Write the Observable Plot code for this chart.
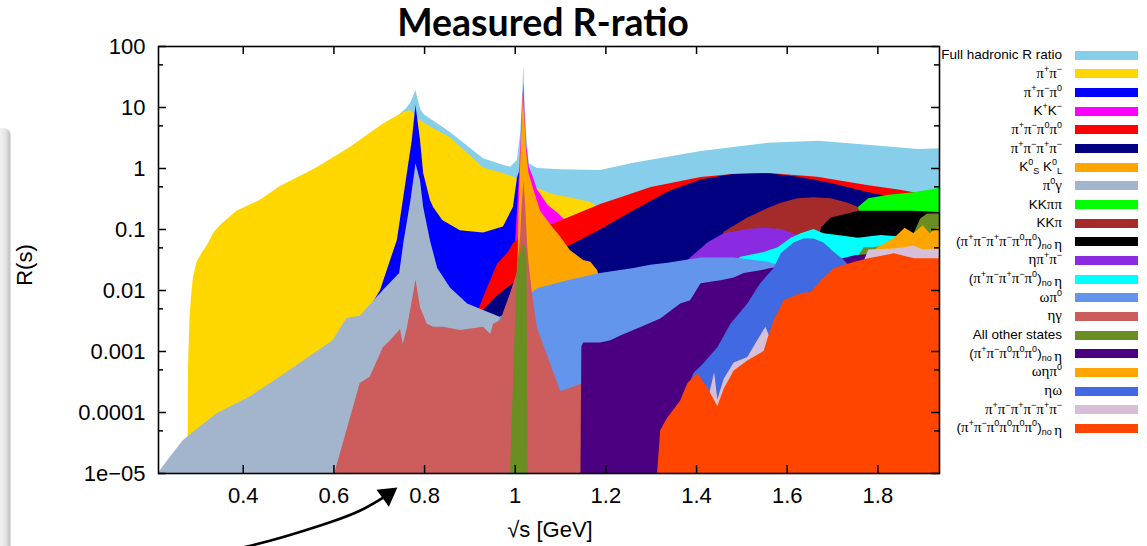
<!DOCTYPE html>
<html>
<head>
<meta charset="utf-8">
<script src="https://cdn.jsdelivr.net/npm/d3@7"></script>
<script src="https://cdn.jsdelivr.net/npm/@observablehq/plot@0.6"></script>
<style>
  html,body{margin:0;padding:0;background:#fff;}
  body{width:1147px;height:546px;position:relative;overflow:hidden;font-family:"Liberation Sans",Arial,Helvetica,sans-serif;color:#000;}
  #title{position:absolute;left:0;top:1px;width:1086px;text-align:center;font-family:Lato,"Noto Sans",sans-serif;font-weight:700;font-size:37.5px;line-height:42px;}
  #chart{position:absolute;left:0;top:40px;}
  .axlabel{position:absolute;font-size:22px;line-height:22px;white-space:nowrap;}
  #xlabel{left:550px;top:519px;transform:translateX(-50%);}
  #ylabel{left:25px;top:265px;transform:translate(-50%,-50%) rotate(-90deg);}
  .lg-text{position:absolute;right:85px;height:15px;line-height:15px;font-size:13.5px;white-space:nowrap;text-align:right;}
  .lg-sw{position:absolute;left:1075px;width:63px;height:9px;}
  .g{font-family:"Liberation Serif","DejaVu Serif",serif;font-size:15px;}
  sup,sub{font-size:9px;line-height:0;position:relative;vertical-align:baseline;}
  sup{top:-6px;} sub{top:3px;}
  #shadow{position:absolute;left:0;top:128px;width:11px;height:418px;border-radius:0 8px 0 0;
    background:linear-gradient(to right,#f2f2f2 0%,#e2e2e2 55%,#c4c4c4 85%,#e9e9e9 100%);}
</style>
</head>
<body>
<div id="shadow"></div>
<div id="title">Measured R-ratio</div>
<div id="chart"></div>
<div id="xlabel" class="axlabel">√s [GeV]</div>
<div id="ylabel" class="axlabel">R(s)</div>
<div id="legend"></div>
<script>
// ---------- axis ticks ----------
const xTicks = [0.4, 0.6, 0.8, 1.0, 1.2, 1.4, 1.6, 1.8];
const xTickLabels = ["0.4", "0.6", "0.8", "1", "1.2", "1.4", "1.6", "1.8"];
const yTicks = [1e-5, 1e-4, 1e-3, 1e-2, 0.1, 1, 10, 100];
const yTickLabels = ["1e\u221205", "0.0001", "0.001", "0.01", "0.1", "1", "10", "100"];
const yMinorTicks = [5e-5, 5e-4, 5e-3, 0.05, 0.5, 5, 50];
const xDomain = [0.213, 1.936];
const yDomain = [1e-5, 100];
const BASE = 1e-5;

// ---------- channel data: [sqrt(s) GeV, R] ----------
const fullHadronic = [[0.213,1e-5],[0.278,1e-5],[0.29,0.01],[0.31,0.035],[0.35,0.1],[0.44,0.27],[0.56,0.9],[0.64,2.0],[0.71,5.0],[0.745,7.6],[0.76,9.5],[0.77,12],[0.777,16],[0.781,19],[0.785,14],[0.792,9.0],[0.8,7.5],[0.857,3.9],[0.93,1.45],[0.97,1.15],[0.99,1.05],[1.0046,1.35],[1.0119,3.7],[1.0157,13],[1.019,49],[1.0215,13],[1.025,3.7],[1.031,1.2],[1.049,1.0],[1.1,0.95],[1.188,0.93],[1.262,1.22],[1.41,1.9],[1.558,2.6],[1.67,2.8],[1.778,2.4],[1.89,2.05],[1.937,2.1]];
const pipi = [[0.2785,1e-5],[0.279,5e-4],[0.2826,0.0036],[0.2863,0.0087],[0.29,0.016],[0.2974,0.028],[0.3085,0.04],[0.323,0.058],[0.334,0.085],[0.349,0.115],[0.386,0.2],[0.437,0.3],[0.481,0.5],[0.563,1.03],[0.636,2.2],[0.71,5.4],[0.754,8.3],[0.769,8.9],[0.776,8.0],[0.79,6.1],[0.82,4.5],[0.857,3.2],[0.93,1.02],[0.974,0.83],[1.0,0.7],[1.02,0.6],[1.04,0.5],[1.08,0.38],[1.12,0.33],[1.165,0.28],[1.2,0.2],[1.4,0.12],[1.6,0.08],[1.937,0.05]];
const pipipi0 = [[0.41,1e-5],[0.5,1e-4],[0.6,8e-4],[0.66,3e-3],[0.703,0.01],[0.725,0.031],[0.74,0.066],[0.762,0.83],[0.773,2.9],[0.781,10.8],[0.791,2.9],[0.798,0.83],[0.813,0.3],[0.82,0.23],[0.84,0.14],[0.879,0.095],[0.93,0.088],[0.974,0.11],[0.996,0.23],[1.005,0.7],[1.012,1.0],[1.017,1.2],[1.022,0.3],[1.03,0.05],[1.05,0.05],[1.1,0.06],[1.3,0.1],[1.5,0.15],[1.65,0.2],[1.937,0.06]];
const kk = [[0.987,1e-5],[1.0,0.05],[1.008,0.5],[1.013,3],[1.0165,12],[1.019,24.6],[1.0215,8],[1.025,2.5],[1.031,1.05],[1.039,0.75],[1.049,0.45],[1.072,0.25],[1.096,0.18],[1.12,0.12],[1.2,0.08],[1.5,0.05],[1.937,0.03]];
const pipi2pi0 = [[0.55,1e-5],[0.8,8e-4],[0.9,0.003],[0.919,0.0047],[0.939,0.011],[0.961,0.027],[0.985,0.042],[0.996,0.059],[1.02,0.08],[1.063,0.107],[1.122,0.16],[1.19,0.26],[1.233,0.33],[1.3,0.49],[1.41,0.71],[1.48,0.8],[1.56,0.83],[1.667,0.72],[1.78,0.52],[1.85,0.44],[1.88,0.4],[1.937,0.36]];
const twoPipTwoPim = [[0.6,1e-5],[0.85,0.001],[0.93,0.0047],[0.96,0.008],[0.99,0.012],[1.0,0.014],[1.03,0.02],[1.056,0.03],[1.1,0.045],[1.15,0.07],[1.19,0.1],[1.26,0.2],[1.34,0.42],[1.41,0.65],[1.48,0.8],[1.56,0.82],[1.63,0.71],[1.7,0.56],[1.78,0.4],[1.81,0.36],[1.85,0.33],[1.937,0.25]];
const ksKl = [[0.995,1e-5],[1.0046,0.0068],[1.0081,0.16],[1.0119,1.2],[1.0157,7],[1.0179,16.7],[1.0215,6],[1.025,2],[1.03,0.85],[1.041,0.45],[1.056,0.2],[1.078,0.12],[1.1,0.075],[1.122,0.045],[1.151,0.031],[1.167,0.029],[1.182,0.021],[1.19,0.012],[1.3,0.005],[1.937,0.001]];
const pi0gamma = [[0.213,1e-5],[0.222,1.25e-5],[0.238,1.8e-5],[0.267,3.4e-5],[0.278,4e-5],[0.342,9.5e-5],[0.415,1.8e-4],[0.481,3.8e-4],[0.598,1.5e-3],[0.629,3.5e-3],[0.658,3.8e-3],[0.709,0.01],[0.745,0.019],[0.755,0.065],[0.77,0.3],[0.776,0.63],[0.781,1.2],[0.791,0.63],[0.798,0.23],[0.813,0.065],[0.829,0.023],[0.857,0.011],[0.895,0.006],[0.93,0.0047],[0.968,0.0036],[0.99,0.0035],[1.01,0.006],[1.019,0.02],[1.03,0.002],[1.05,5e-4],[1.1,1e-4],[1.2,2e-5],[1.3,1e-5]];
const kkpipi = [[1.3,1e-5],[1.6,0.05],[1.74,0.2],[1.757,0.23],[1.78,0.32],[1.82,0.36],[1.88,0.4],[1.937,0.47]];
const kkpi = [[1.13,1e-5],[1.3,0.004],[1.44,0.03],[1.461,0.09],[1.513,0.155],[1.558,0.22],[1.587,0.27],[1.624,0.32],[1.659,0.33],[1.697,0.32],[1.735,0.27],[1.757,0.23],[1.765,0.15],[1.937,0.08]];
const sixPiNoEta = [[1.5,1e-5],[1.6,0.03],[1.67,0.07],[1.676,0.107],[1.697,0.155],[1.735,0.18],[1.757,0.2],[1.807,0.2],[1.88,0.2],[1.937,0.19]];
const etaPipi = [[0.9,1e-5],[1.2,0.002],[1.35,0.02],[1.387,0.034],[1.425,0.06],[1.461,0.085],[1.513,0.1],[1.549,0.105],[1.587,0.1],[1.609,0.088],[1.7,0.05],[1.937,0.02]];
const fivePiNoEta = [[1.2,1e-5],[1.45,0.02],[1.498,0.035],[1.549,0.042],[1.58,0.05],[1.609,0.072],[1.631,0.085],[1.659,0.1],[1.681,0.085],[1.712,0.08],[1.757,0.072],[1.807,0.08],[1.85,0.075],[1.88,0.07],[1.937,0.06]];
const omegaPi0 = [[0.918,1e-5],[0.94,0.001],[0.968,0.0037],[0.99,0.0045],[1.02,0.007],[1.049,0.0107],[1.116,0.0144],[1.188,0.019],[1.262,0.023],[1.299,0.026],[1.337,0.028],[1.41,0.034],[1.483,0.034],[1.558,0.029],[1.593,0.024],[1.7,0.015],[1.8,0.01],[1.937,0.006]];
const etaGamma = [[0.602,1e-5],[0.658,3e-4],[0.68,3.8e-4],[0.709,1.15e-3],[0.725,1.5e-3],[0.747,2.3e-3],[0.753,1.3e-3],[0.762,2.4e-3],[0.776,8.9e-3],[0.781,0.015],[0.786,8.9e-3],[0.791,5.2e-3],[0.806,2.8e-3],[0.82,2.5e-3],[0.842,2.5e-3],[0.879,2.2e-3],[0.93,2.5e-3],[0.946,1.9e-3],[0.952,2.8e-3],[0.968,3.2e-3],[0.99,0.009],[1.005,0.02],[1.012,0.08],[1.016,0.3],[1.019,0.63],[1.023,0.25],[1.027,0.06],[1.03,0.03],[1.038,0.0089],[1.049,2.4e-3],[1.078,6.3e-4],[1.1,2.2e-4],[1.116,2.4e-4],[1.15,3e-4],[1.151,1e-5]];
const otherStates = [[0.9895,1e-5],[1.005,0.03],[1.015,0.045],[1.019,0.065],[1.023,0.045],[1.026,0.03],[1.0285,1e-5],[1.7,1e-5],[1.75,0.03],[1.77,0.05],[1.79,0.05],[1.85,0.06],[1.88,0.085],[1.895,0.15],[1.91,0.18],[1.937,0.18]];
const threePi0NoEta = [[1.145,1e-5],[1.147,1.2e-3],[1.151,1.38e-3],[1.188,1.38e-3],[1.211,1.5e-3],[1.233,1.8e-3],[1.284,2.6e-3],[1.321,3.4e-3],[1.365,6e-3],[1.387,6.8e-3],[1.41,0.0129],[1.454,0.0144],[1.483,0.016],[1.505,0.019],[1.542,0.021],[1.564,0.023],[1.6,0.025],[1.7,0.03],[1.75,0.037],[1.8,0.04],[1.85,0.035],[1.937,0.03]];
const omegaEtaPi0 = [[1.75,1e-5],[1.768,0.02],[1.78,0.035],[1.8,0.05],[1.837,0.072],[1.86,0.105],[1.88,0.085],[1.9,0.115],[1.915,0.085],[1.937,0.11]];
const etaOmega = [[1.33,1e-5],[1.36,1e-4],[1.394,4.3e-4],[1.416,6.3e-4],[1.447,1.15e-3],[1.476,2.8e-3],[1.513,6e-3],[1.542,0.013],[1.571,0.023],[1.587,0.04],[1.615,0.06],[1.637,0.07],[1.659,0.07],[1.681,0.06],[1.704,0.042],[1.726,0.031],[1.75,0.02],[1.937,0.01]];
const sixPiCharged = [[1.39,1e-5],[1.425,1.5e-4],[1.44,4.5e-4],[1.447,1.6e-4],[1.461,3.5e-4],[1.483,6.5e-4],[1.513,8e-4],[1.53,1.3e-3],[1.553,2.5e-3],[1.565,1.5e-3],[1.6,4e-3],[1.7,0.012],[1.77,0.03],[1.78,0.046],[1.837,0.048],[1.88,0.053],[1.9,0.046],[1.937,0.048]];
const fourPi0NoEta = [[1.314,1e-5],[1.321,5e-5],[1.336,8e-5],[1.365,1.55e-4],[1.381,3e-4],[1.403,4.3e-4],[1.425,2.5e-4],[1.447,1.26e-4],[1.461,2.4e-4],[1.483,4.8e-4],[1.513,7e-4],[1.549,1e-3],[1.558,1.65e-3],[1.571,3.2e-3],[1.593,6.8e-3],[1.609,7.6e-3],[1.631,8.9e-3],[1.653,9.3e-3],[1.675,0.0144],[1.704,0.023],[1.742,0.028],[1.78,0.033],[1.837,0.04],[1.881,0.033],[1.937,0.033]];

// ---------- legend labels (mini markup: ^ sup, _ sub) and colours, in draw order ----------
const legendLabels = [
  "Full hadronic R ratio", "π^+π^-", "π^+π^-π^0", "K^+K^-", "π^+π^-π^0π^0", "π^+π^-π^+π^-",
  "K^0_S K^0_L", "π^0γ", "KKππ", "KKπ", "(π^+π^-π^+π^-π^0π^0)_{no η}", "ηπ^+π^-",
  "(π^+π^-π^+π^-π^0)_{no η}", "ωπ^0", "ηγ", "All other states", "(π^+π^-π^0π^0π^0)_{no η}",
  "ωηπ^0", "ηω", "π^+π^-π^+π^-π^+π^-", "(π^+π^-π^0π^0π^0π^0)_{no η}"
];
const colors = ["#87ceeb","#ffd700","#0000ff","#ff00ff","#ff0000","#000080","#ffa500","#a2b5cd","#00ff00","#a52a2a",
  "#000000","#8a2be2","#00ffff","#6495ed","#cd5c5c","#6b8e23","#4b0082","#ffa500","#4169e1","#d8bfd8","#ff4500"];
const series = [fullHadronic, pipi, pipipi0, kk, pipi2pi0, twoPipTwoPim, ksKl, pi0gamma, kkpipi, kkpi,
  sixPiNoEta, etaPipi, fivePiNoEta, omegaPi0, etaGamma, otherStates, threePi0NoEta, omegaEtaPi0, etaOmega, sixPiCharged, fourPi0NoEta];

// annotation arrow below the axis (tail runs off the bottom edge) and its filled head
const arrowPath = [[0.360,5.25e-7],[0.4439,7.37e-7],[0.5213,1.076e-6],[0.5964,1.63e-6],[0.6583,2.47e-6],[0.7069,3.95e-6]];
const arrowHead = [{x: 0.7184, y: 4.5e-6, angle: 54}];

const xLab = new Map(xTicks.map((d, i) => [d, xTickLabels[i]]));
const yLab = new Map(yTicks.map((d, i) => [d, yTickLabels[i]]));

// frame size in px -> inward tick lengths in data units
const FW = 1147 - 158 - 208, FH = 506 - 6 - 73;
const pxX = (xDomain[1] - xDomain[0]) / FW;
const pxY = Math.log10(yDomain[1] / yDomain[0]) / FH;
const major = 8, minor = 5;

const marks = series.map((data, i) =>
  Plot.areaY(data, {x: d => d[0], y1: () => BASE, y2: d => d[1], fill: colors[i], clip: true})
);

const tickStyle = {stroke: "#000", strokeWidth: 1.5};
marks.push(
  Plot.ruleX(xTicks, {x: d => d, y1: yDomain[0], y2: yDomain[0] * 10 ** (major * pxY), ...tickStyle}),
  Plot.ruleX(xTicks, {x: d => d, y1: yDomain[1] / 10 ** (major * pxY), y2: yDomain[1], ...tickStyle}),
  Plot.ruleY(yTicks, {y: d => d, x1: xDomain[0], x2: xDomain[0] + major * pxX, ...tickStyle}),
  Plot.ruleY(yMinorTicks, {y: d => d, x1: xDomain[0], x2: xDomain[0] + minor * pxX, ...tickStyle}),
  Plot.ruleY(yTicks, {y: d => d, x1: xDomain[1] - major * pxX, x2: xDomain[1], ...tickStyle}),
  Plot.ruleY(yMinorTicks, {y: d => d, x1: xDomain[1] - minor * pxX, x2: xDomain[1], ...tickStyle}),
  Plot.axisX(xTicks, {anchor: "bottom", tickSize: 0, tickPadding: 14, tickFormat: d => xLab.get(d), fontSize: 22, label: null}),
  Plot.axisY(yTicks, {anchor: "left", tickSize: 0, tickPadding: 13, tickFormat: d => yLab.get(d), fontSize: 22, label: null}),
  Plot.frame({stroke: "#000", strokeWidth: 1.6}),
  Plot.line(arrowPath, {x: d => d[0], y: d => d[1], curve: "natural", stroke: "#000", strokeWidth: 2.6}),
  Plot.dot(arrowHead, {x: "x", y: "y", rotate: "angle", symbol: "triangle2", r: 10, fill: "#000", stroke: "none"})
);

const chart = Plot.plot({
  width: 1147, height: 506,
  marginLeft: 158, marginRight: 208, marginTop: 6, marginBottom: 73,
  style: {fontFamily: '"Liberation Sans", Arial, sans-serif', fontSize: "22px", background: "transparent", overflow: "visible", color: "#000"},
  x: {domain: xDomain},
  y: {type: "log", domain: yDomain},
  marks
});
document.getElementById("chart").appendChild(chart);

// ---------- legend ----------
function fmt(s) {
  let out = "", i = 0;
  const wrapG = t => t.replace(/[πγηω]/g, c => `<span class="g">${c}</span>`);
  while (i < s.length) {
    const c = s[i];
    if (c === "^" || c === "_") {
      let tok;
      if (s[i + 1] === "{") { const j = s.indexOf("}", i); tok = s.slice(i + 2, j); i = j + 1; }
      else { tok = s[i + 1]; i += 2; }
      tok = tok.replace(/-/g, "\u2212");
      const tag = c === "^" ? "sup" : "sub";
      out += `<${tag}>${wrapG(tok)}</${tag}>`;
    } else { out += wrapG(c); i++; }
  }
  return out;
}
const legend = document.getElementById("legend");
legendLabels.forEach((lab, i) => {
  const cy = 55.3 + 18.65 * i;
  const t = document.createElement("div");
  t.className = "lg-text"; t.style.top = (cy - 8) + "px"; t.innerHTML = fmt(lab);
  const sw = document.createElement("div");
  sw.className = "lg-sw"; sw.style.top = (cy - 4.5) + "px"; sw.style.background = colors[i];
  legend.appendChild(t); legend.appendChild(sw);
});
</script>
</body>
</html>
